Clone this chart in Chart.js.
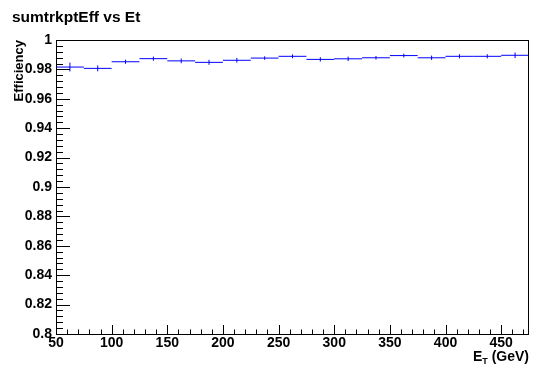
<!DOCTYPE html>
<html>
<head>
<meta charset="utf-8">
<script src="https://cdn.jsdelivr.net/npm/chart.js@4/dist/chart.umd.min.js"></script>
<style>
  body { margin: 0; background: #fff; }
  #wrap { width: 543px; height: 370px; }
</style>
</head>
<body>
<div id="wrap"><canvas id="myChart" width="543" height="370"></canvas></div>
<script>
// Bordes de los bins en E_T (GeV)
const binEdges = [50, 75, 100, 125, 150, 175, 200, 225, 250, 275, 300, 325, 350, 375, 400, 425, 450, 475];
// Eficiencia por bin
const efficiency = [0.9816, 0.9807, 0.9852, 0.9873, 0.9858, 0.9848, 0.9862, 0.9877, 0.9889,
                    0.9868, 0.9872, 0.9879, 0.9894, 0.9879, 0.9889, 0.9889, 0.9896];
// Errores (barras verticales)
const effError = [0.003, 0.002, 0.0014, 0.0014, 0.0016, 0.0017, 0.0016, 0.0012, 0.0013,
                  0.0015, 0.0015, 0.0012, 0.0013, 0.0015, 0.0014, 0.0014, 0.0019];
// Etiquetas de los ejes
const xTickValues = [50, 100, 150, 200, 250, 300, 350, 400, 450];
const chartTitle = 'sumtrkptEff vs Et';
const yTitle = 'Efficiency';

const FONT = "'Liberation Sans', Arial, sans-serif";

// Segmentos horizontales (ancho del bin)
const hSeg = [];
efficiency.forEach((v, i) => {
  hSeg.push({ x: binEdges[i], y: v }, { x: binEdges[i + 1], y: v }, { x: binEdges[i + 1], y: null });
});
// Barras de error
const eSeg = [];
efficiency.forEach((v, i) => {
  const c = (binEdges[i] + binEdges[i + 1]) / 2;
  eSeg.push({ x: c, y: v - effError[i] }, { x: c, y: v + effError[i] }, { x: c, y: null });
});

// Plugin: marco, ticks hacia adentro y títulos estilo ROOT
const rootStyle = {
  id: 'rootStyle',
  afterDraw(chart) {
    const ctx = chart.ctx;
    const a = chart.chartArea;
    const xs = chart.scales.x, ys = chart.scales.y;
    ctx.save();
    ctx.strokeStyle = '#000';
    ctx.lineWidth = 1;
    ctx.strokeRect(Math.round(a.left) + 0.5, Math.round(a.top) + 0.5,
                   Math.round(a.right - a.left) - 1, Math.round(a.bottom - a.top));
    ctx.beginPath();
    for (let k = 0; k <= 50; k++) {
      const y = Math.round(ys.getPixelForValue(0.8 + k * 0.004)) + 0.5;
      const len = (k % 5 === 0) ? 14 : 7;
      ctx.moveTo(a.left, y);
      ctx.lineTo(a.left + len, y);
    }
    for (let v = 50; v < 475; v += 10) {
      const x = Math.round(xs.getPixelForValue(v)) + 0.5;
      const len = (v % 50 === 0) ? 9 : 4.5;
      ctx.moveTo(x, a.bottom);
      ctx.lineTo(x, a.bottom - len);
    }
    ctx.stroke();

    ctx.fillStyle = '#000';
    // título
    ctx.font = 'bold 15.5px ' + FONT;
    ctx.textAlign = 'left';
    ctx.textBaseline = 'alphabetic';
    ctx.fillText(chartTitle, 12, 22);
    // título eje x: E_T (GeV)
    ctx.font = 'bold 14px ' + FONT;
    const rest = ' (GeV)';
    const wRest = ctx.measureText(rest).width;
    const wE = ctx.measureText('E').width;
    ctx.font = 'bold 9px ' + FONT;
    const wT = ctx.measureText('T').width;
    const xEnd = a.right;
    const base = 361;
    ctx.textAlign = 'left';
    ctx.font = 'bold 14px ' + FONT;
    ctx.fillText('E', xEnd - wRest - wT - wE, base);
    ctx.fillText(rest, xEnd - wRest, base);
    ctx.font = 'bold 9px ' + FONT;
    ctx.fillText('T', xEnd - wRest - wT, base + 3);
    // título eje y
    ctx.font = 'bold 13px ' + FONT;
    ctx.translate(23, a.top);
    ctx.rotate(-Math.PI / 2);
    ctx.textAlign = 'right';
    ctx.fillText(yTitle, 0, 0);
    ctx.restore();
  }
};

const config = {
  type: 'scatter',
  data: {
    datasets: [
      { data: hSeg, showLine: true, borderColor: '#0000ff', borderWidth: 1, pointRadius: 0, spanGaps: false },
      { data: eSeg, showLine: true, borderColor: '#0000ff', borderWidth: 1, pointRadius: 0, spanGaps: false }
    ]
  },
  options: {
    responsive: false,
    animation: false,
    layout: { padding: { top: 40, right: 14, bottom: 0, left: 0 } },
    plugins: { legend: { display: false }, tooltip: { enabled: false } },
    scales: {
      x: {
        type: 'linear', min: 50, max: 475,
        grid: { display: false, drawTicks: false },
        border: { display: false },
        afterBuildTicks: s => { s.ticks = xTickValues.map(v => ({ value: v })); },
        afterFit: s => { s.height = 36; },
        ticks: {
          autoSkip: false, maxRotation: 0, padding: 1,
          color: '#000', font: { family: FONT, size: 14, weight: 'bold' },
          callback: v => String(v)
        }
      },
      y: {
        min: 0.8, max: 1,
        grid: { display: false, drawTicks: false },
        border: { display: false },
        afterFit: s => { s.width = 56; },
        ticks: {
          stepSize: 0.02, autoSkip: false, padding: 4,
          color: '#000', font: { family: FONT, size: 14, weight: 'bold' },
          callback: v => String(+v.toFixed(2))
        }
      }
    }
  },
  plugins: [rootStyle]
};

const myChart = new Chart(document.getElementById('myChart'), config);
</script>
</body>
</html>
